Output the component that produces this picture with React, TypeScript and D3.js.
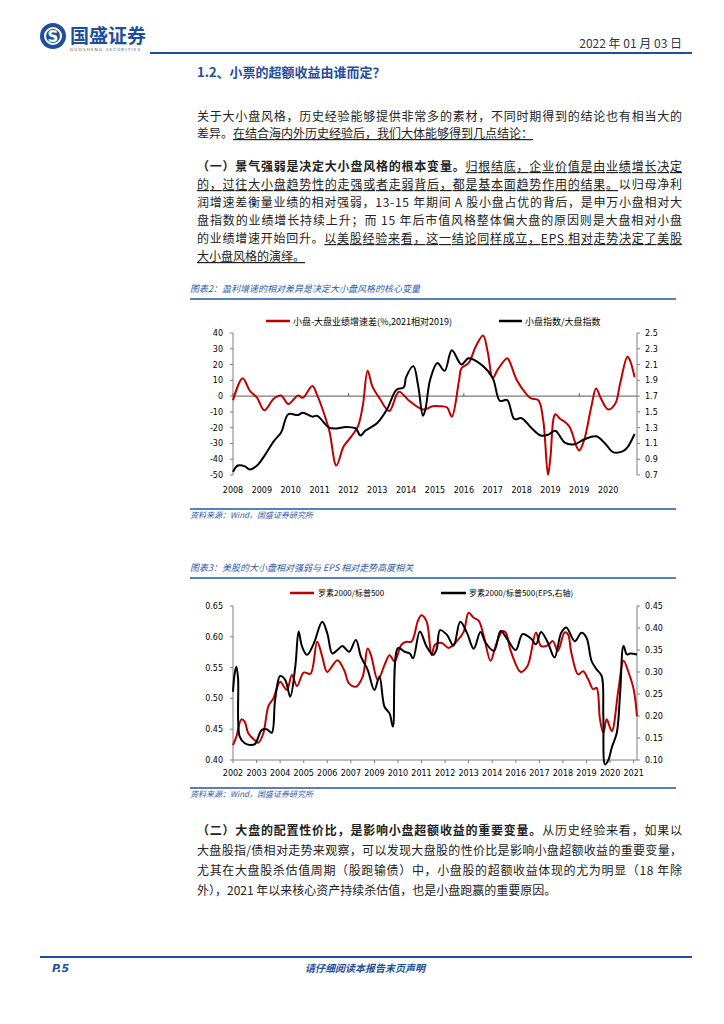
import React from "react";
import * as d3 from "d3";

// ---- chart 1 data (period index: 12 steps per label) ----
const labels1 = ["2008", "2009", "2010", "2011", "2012", "2013", "2014", "2015", "2016", "2017", "2018", "2019", "2019", "2020"];
const ticksL1 = [40, 30, 20, 10, 0, -10, -20, -30, -40, -50];
const ticksR1 = [2.5, 2.3, 2.1, 1.9, 1.7, 1.5, 1.3, 1.1, 0.9, 0.7];
const spreadGrowth: [number, number][] = [
  [0, -2.6], [4, 11.3], [7, 3.4], [10, -1], [13, -9], [17, -1.5], [20, 0.4], [23, -5], [27, 0.4], [29, -1],
  [33, 6.4], [35, 0.6], [37, -7.2], [40, -21.7], [43, -44], [46, -32], [49, -26], [52, -19], [54, -5.8],
  [56, 16], [58, 6], [61, -1.5], [65, -9.4], [69, 2.8], [73, -2.6], [79, -8.5], [83, -6.4], [86, -6.4],
  [89, -7.2], [91, -13], [94, 10], [95, 17.7], [98, 21], [101, 31.6], [104, 38.4], [106, 27.3], [108, 11.3],
  [110, 16.6], [114, 24], [115, 22], [118, 10.2], [122, 1.3], [124, -1.5], [127, -2.6], [129, -15.4],
  [131, -50], [132, -38.8], [134, -11.5], [136, -14.3], [138, -16.4], [140, -19.6], [143, -32.4], [144, -34.5],
  [146, -28], [149, -6.8], [151, 4.9], [153, -1.5], [156, -8.5], [159, -4.7], [161, 8.1], [164, 25], [165, 23], [167, 12],
];
const smallBigRatio: [number, number][] = [
  [0, 0.74], [2, 0.82], [5, 0.81], [7, 0.77], [10, 0.82], [13, 0.94], [17, 1.13], [20, 1.24], [23, 1.47],
  [27, 1.46], [29, 1.49], [33, 1.44], [35, 1.45], [40, 1.3], [43, 1.29], [47, 1.31], [51, 1.29], [53, 1.2],
  [55, 1.26], [60, 1.36], [64, 1.53], [68, 1.78], [71, 1.81], [72, 1.94], [75, 2.08], [77, 1.83], [79, 1.45],
  [80, 1.53], [82, 1.91], [85, 2.12], [88, 2.02], [91, 2.28], [95, 2.1], [98, 2.18], [104, 2.08], [108, 1.93],
  [111, 1.64], [114, 1.65], [117, 1.41], [120, 1.42], [124, 1.3], [128, 1.2], [131, 1.21], [134, 1.26],
  [138, 1.11], [142, 1.09], [146, 1.15], [151, 1.19], [155, 1.09], [158, 0.99], [162, 1.0], [164, 1.05], [167, 1.22],
];

// ---- chart 2 data (months since 2002-01, label every 14 months) ----
const labels2 = ["2002", "2003", "2004", "2005", "2006", "2007", "2009", "2010", "2011", "2012", "2013", "2014", "2016", "2017", "2018", "2019", "2020", "2021"];
const ticksL2 = [0.65, 0.6, 0.55, 0.5, 0.45, 0.4];
const ticksR2 = [0.45, 0.4, 0.35, 0.3, 0.25, 0.2, 0.15, 0.1];
const r2000Spx: [number, number][] = [
  [0, 0.424], [2, 0.438], [5, 0.466], [7, 0.462], [9, 0.444], [13, 0.432], [15, 0.428], [18, 0.443], [21, 0.487],
  [24, 0.5], [26, 0.516], [28, 0.527], [32, 0.514], [35, 0.538], [38, 0.52], [42, 0.542], [46, 0.54], [50, 0.592],
  [53, 0.568], [56, 0.543], [62, 0.562], [66, 0.546], [69, 0.524], [73, 0.519], [77, 0.535], [80, 0.581], [82, 0.57],
  [86, 0.53], [90, 0.554], [93, 0.57], [96, 0.56], [100, 0.587], [103, 0.592], [106, 0.592], [110, 0.627], [112, 0.635],
  [115, 0.625], [118, 0.57], [120, 0.587], [124, 0.59], [128, 0.582], [133, 0.593], [137, 0.608], [140, 0.639],
  [143, 0.631], [146, 0.626], [149, 0.601], [153, 0.561], [156, 0.585], [160, 0.609], [162, 0.607], [165, 0.577],
  [171, 0.543], [175, 0.553], [180, 0.607], [183, 0.585], [187, 0.586], [190, 0.593], [193, 0.577], [197, 0.607],
  [199, 0.604], [201, 0.574], [205, 0.539], [208, 0.544], [211, 0.531], [214, 0.515], [216, 0.517], [218, 0.466],
  [220, 0.444], [222, 0.466], [225, 0.447], [229, 0.515], [232, 0.561], [235, 0.542], [238, 0.515], [240, 0.471],
];
const r2000SpxEps: [number, number][] = [
  [0, 0.255], [1, 0.297], [2, 0.312], [3, 0.286], [4, 0.153], [7, 0.138], [10, 0.134], [13, 0.136], [17, 0.168],
  [20, 0.17], [23, 0.162], [25, 0.236], [28, 0.291], [31, 0.282], [34, 0.244], [37, 0.312], [39, 0.392], [41, 0.358],
  [44, 0.339], [48, 0.365], [53, 0.414], [56, 0.388], [59, 0.342], [62, 0.35], [65, 0.359], [69, 0.346], [73, 0.373],
  [76, 0.335], [80, 0.305], [84, 0.259], [87, 0.29], [90, 0.221], [93, 0.206], [95, 0.176], [98, 0.354], [102, 0.346],
  [105, 0.342], [107, 0.331], [111, 0.392], [115, 0.358], [119, 0.339], [121, 0.352], [123, 0.395], [127, 0.385],
  [131, 0.36], [135, 0.414], [139, 0.389], [143, 0.353], [147, 0.391], [150, 0.367], [155, 0.348], [159, 0.393],
  [163, 0.374], [168, 0.35], [172, 0.386], [177, 0.376], [180, 0.363], [183, 0.391], [187, 0.367], [191, 0.333],
  [195, 0.389], [198, 0.401], [203, 0.37], [207, 0.389], [210, 0.378], [213, 0.325], [216, 0.306], [219, 0.291],
  [220, 0.2], [221, 0.09], [223, 0.1], [225, 0.128], [228, 0.162], [230, 0.253], [232, 0.359], [234, 0.34],
  [236, 0.342], [240, 0.34],
];

// ---- text ----
type Seg = { t: string; b?: boolean; u?: boolean };
const para1: Seg[][] = [
  [{ t: "关于大小盘风格，历史经验能够提供非常多的素材，不同时期得到的结论也有相当大的" }],
  [{ t: "差异。" }, { t: "在结合海内外历史经验后，我们大体能够得到几点结论：", u: true }],
];
const para2: Seg[][] = [
  [{ t: "（一）景气强弱是决定大小盘风格的根本变量。", b: true }, { t: "归根结底，企业价值是由业绩增长决定", u: true }],
  [{ t: "的，过往大小盘趋势性的走强或者走弱背后，都是基本面趋势作用的结果。", u: true }, { t: "以归母净利" }],
  [{ t: "润增速差衡量业绩的相对强弱，13-15 年期间 A 股小盘占优的背后，是申万小盘相对大" }],
  [{ t: "盘指数的业绩增长持续上升；而 15 年后市值风格整体偏大盘的原因则是大盘相对小盘" }],
  [{ t: "的业绩增速开始回升。" }, { t: "以美股经验来看，这一结论同样成立，EPS 相对走势决定了美股", u: true }],
  [{ t: "大小盘风格的演绎。", u: true }],
];
const para3: Seg[][] = [
  [{ t: "（二）大盘的配置性价比，是影响小盘超额收益的重要变量。", b: true }, { t: "从历史经验来看，如果以" }],
  [{ t: "大盘股指/债相对走势来观察，可以发现大盘股的性价比是影响小盘超额收益的重要变量，" }],
  [{ t: "尤其在大盘股杀估值周期（股跑输债）中，小盘股的超额收益体现的尤为明显（18 年除" }],
  [{ t: "外），2021 年以来核心资产持续杀估值，也是小盘跑赢的重要原因。" }],
];

const CJK = "'Noto Sans CJK SC', sans-serif";
const NUM = "'DejaVu Sans', sans-serif";
const BLUE = "#1f4e9c";
const CAP = "#2e5aa8";
const LINEBLUE = "#5a7fc0";
const RED = "#c00000";
const AXIS = "#7f7f7f";

const Para = ({ lines, y0, dy }: { lines: Seg[][]; y0: number; dy: number }) => (
  <g fontFamily={CJK} fontSize={12} fill="#222">
    {lines.map((segs, i) => {
      const full = i < lines.length - 1;
      return (
        <text key={i} x={197} y={y0 + i * dy} textLength={full ? 485 : undefined} lengthAdjust="spacing">
          {segs.map((s, j) => (
            <tspan key={j} fontWeight={s.b ? "bold" : undefined} style={{ textDecoration: s.u ? "underline" : "none" }}>
              {s.t}
            </tspan>
          ))}
        </text>
      );
    })}
  </g>
);

const Chart1 = () => {
  const x = d3.scaleLinear().domain([0, 168]).range([233, 637]);
  const yL = d3.scaleLinear().domain([-50, 40]).range([475, 333]);
  const yR = d3.scaleLinear().domain([0.7, 2.5]).range([475, 333]);
  const lineL = d3.line<[number, number]>().x((d) => x(d[0])).y((d) => yL(d[1])).curve(d3.curveCatmullRom.alpha(0.5));
  const lineR = d3.line<[number, number]>().x((d) => x(d[0])).y((d) => yR(d[1])).curve(d3.curveCatmullRom.alpha(0.5));
  return (
    <g>
      <text x={190} y={292} fontFamily={CJK} fontSize={9} fontStyle="italic" fill={CAP}>
        图表2：盈利增速的相对差异是决定大小盘风格的核心变量
      </text>
      <line x1={190} x2={676} y1={299} y2={299} stroke={LINEBLUE} strokeWidth={2} />
      {/* legend */}
      <line x1={266} x2={290} y1={321} y2={321} stroke={RED} strokeWidth={2.5} />
      <text x={293} y={324.5} fontFamily={CJK} fontSize={9} fill="#000">小盘-大盘业绩增速差(%,2021相对2019)</text>
      <line x1={499} x2={522} y1={321} y2={321} stroke="#000" strokeWidth={2.5} />
      <text x={525} y={324.5} fontFamily={CJK} fontSize={9} fill="#000">小盘指数/大盘指数</text>
      {/* axes */}
      <line x1={233} x2={233} y1={yL(40)} y2={yL(-50)} stroke={AXIS} />
      <line x1={637} x2={637} y1={yR(2.5)} y2={yR(0.7)} stroke={AXIS} />
      <line x1={233} x2={637} y1={yL(0)} y2={yL(0)} stroke="#595959" />
      {[0, 48, 96, 144].map((m) => (
        <line key={m} x1={x(m)} x2={x(m)} y1={yL(0)} y2={yL(0) - 3} stroke="#595959" />
      ))}
      {ticksL1.map((t) => (
        <g key={t}>
          <line x1={230} x2={233} y1={yL(t)} y2={yL(t)} stroke={AXIS} />
          <text x={223} y={yL(t) + 3} textAnchor="end" fontFamily={NUM} fontSize={8} fill="#000">{t}</text>
        </g>
      ))}
      {ticksR1.map((t) => (
        <g key={t}>
          <line x1={637} x2={640} y1={yR(t)} y2={yR(t)} stroke={AXIS} />
          <text x={645} y={yR(t) + 3} fontFamily={NUM} fontSize={8} fill="#000">{d3.format(".1f")(t)}</text>
        </g>
      ))}
      {labels1.map((l, i) => (
        <text key={i} x={x(i * 12)} y={493} textAnchor="middle" fontFamily={NUM} fontSize={8} fill="#000">{l}</text>
      ))}
      <path d={lineL(spreadGrowth) || ""} fill="none" stroke={RED} strokeWidth={2} />
      <path d={lineR(smallBigRatio) || ""} fill="none" stroke="#000" strokeWidth={2} />
      <line x1={190} x2={676} y1={509} y2={509} stroke={LINEBLUE} strokeWidth={2} />
      <text x={190} y={518} fontFamily={CJK} fontSize={8} fontStyle="italic" fill={CAP}>资料来源：Wind，国盛证券研究所</text>
    </g>
  );
};

const Chart2 = () => {
  const x = d3.scaleLinear().domain([0, 240]).range([233, 637]);
  const yL = d3.scaleLinear().domain([0.4, 0.65]).range([760, 606]);
  const yR = d3.scaleLinear().domain([0.1, 0.45]).range([760, 606]);
  const lineL = d3.line<[number, number]>().x((d) => x(d[0])).y((d) => yL(d[1])).curve(d3.curveCatmullRom.alpha(0.5));
  const lineR = d3.line<[number, number]>().x((d) => x(d[0])).y((d) => yR(d[1])).curve(d3.curveCatmullRom.alpha(0.5));
  return (
    <g>
      <text x={190} y={571} fontFamily={CJK} fontSize={9} fontStyle="italic" fill={CAP}>
        图表3：美股的大小盘相对强弱与 EPS 相对走势高度相关
      </text>
      <line x1={190} x2={676} y1={578} y2={578} stroke={LINEBLUE} strokeWidth={2} />
      <line x1={290} x2={314} y1={593} y2={593} stroke={RED} strokeWidth={2.5} />
      <text x={318} y={596} fontFamily={CJK} fontSize={8} fill="#000">罗素2000/标普500</text>
      <line x1={441} x2={466} y1={593} y2={593} stroke="#000" strokeWidth={2.5} />
      <text x={469} y={596} fontFamily={CJK} fontSize={8} fill="#000">罗素2000/标普500(EPS,右轴)</text>
      <line x1={233} x2={233} y1={606} y2={760} stroke={AXIS} />
      <line x1={637} x2={637} y1={606} y2={760} stroke={AXIS} />
      <line x1={233} x2={637} y1={760} y2={760} stroke={AXIS} />
      {ticksL2.map((t) => (
        <g key={t}>
          <line x1={230} x2={233} y1={yL(t)} y2={yL(t)} stroke={AXIS} />
          <text x={223} y={yL(t) + 3} textAnchor="end" fontFamily={NUM} fontSize={8} fill="#000">{d3.format(".2f")(t)}</text>
        </g>
      ))}
      {ticksR2.map((t) => (
        <g key={t}>
          <line x1={637} x2={640} y1={yR(t)} y2={yR(t)} stroke={AXIS} />
          <text x={645} y={yR(t) + 3} fontFamily={NUM} fontSize={8} fill="#000">{d3.format(".2f")(t)}</text>
        </g>
      ))}
      {labels2.map((l, i) => (
        <g key={i}>
          <line x1={x(i * 14)} x2={x(i * 14)} y1={760} y2={763} stroke={AXIS} />
          <text x={x(i * 14)} y={776} textAnchor="middle" fontFamily={NUM} fontSize={8} fill="#000">{l}</text>
        </g>
      ))}
      <path d={lineL(r2000Spx) || ""} fill="none" stroke={RED} strokeWidth={2} />
      <path d={lineR(r2000SpxEps) || ""} fill="none" stroke="#000" strokeWidth={2} />
      <line x1={190} x2={676} y1={788} y2={788} stroke={LINEBLUE} strokeWidth={2} />
      <text x={190} y={797} fontFamily={CJK} fontSize={8} fontStyle="italic" fill={CAP}>资料来源：Wind，国盛证券研究所</text>
    </g>
  );
};

export default function App() {
  return (
    <>
      <style>{"body{margin:0}"}</style>
      <svg width={724} height={1024} style={{ display: "block", background: "#fff" }}>
        {/* header */}
        <circle cx={53} cy={36} r={13} fill={BLUE} />
        <circle cx={53} cy={36} r={8} fill="none" stroke="#fff" strokeWidth={2} />
        <text x={53} y={42} textAnchor="middle" fontFamily={NUM} fontWeight="bold" fontSize={15} fill="#fff">S</text>
        <text x={70} y={43} fontFamily={CJK} fontWeight="bold" fontSize={19} fill={BLUE}>国盛证券</text>
        <text x={70} y={51} fontFamily={NUM} fontSize={4.2} letterSpacing={1.1} fill="#555">GUOSHENG SECURITIES</text>
        <text x={682} y={48} textAnchor="end" fontFamily={CJK} fontSize={12} fill="#333">2022 年 01 月 03 日</text>
        <line x1={150} x2={692} y1={53} y2={53} stroke={BLUE} strokeWidth={2} />
        <text x={197} y={77} fontFamily={CJK} fontWeight="bold" fontSize={13} fill={BLUE}>1.2、小票的超额收益由谁而定？</text>

        <Para lines={para1} y0={121} dy={17} />
        <Para lines={para2} y0={171} dy={18} />
        <Chart1 />
        <Chart2 />
        <Para lines={para3} y0={835} dy={20} />

        {/* footer */}
        <line x1={40} x2={692} y1={957} y2={957} stroke={BLUE} strokeWidth={2} />
        <text x={52} y={972} fontFamily={NUM} fontWeight="bold" fontStyle="italic" fontSize={11} fill={BLUE}>P.5</text>
        <text x={365} y={972} textAnchor="middle" fontFamily={CJK} fontWeight="bold" fontStyle="italic" fontSize={10} fill={BLUE}>
          请仔细阅读本报告末页声明
        </text>
      </svg>
    </>
  );
}
